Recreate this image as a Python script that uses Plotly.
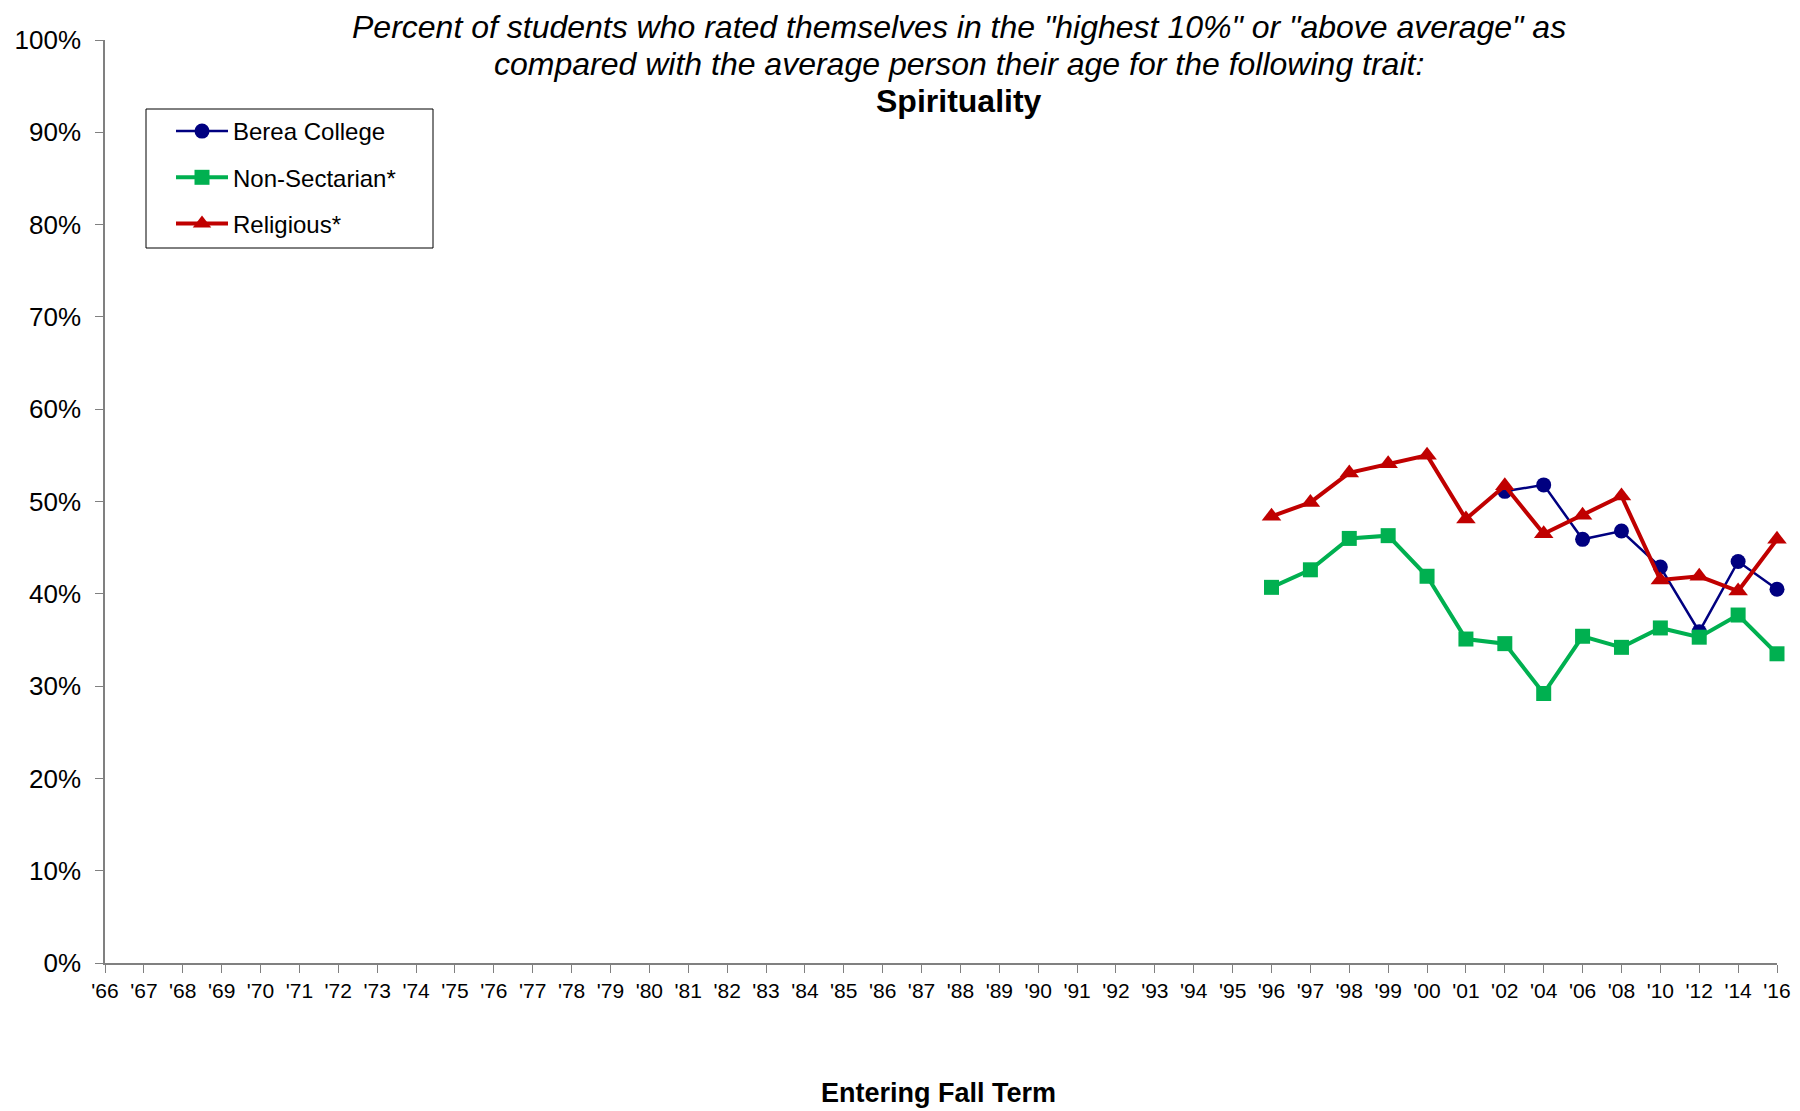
import plotly.graph_objects as go

years = ["'66","'67","'68","'69","'70","'71","'72","'73","'74","'75","'76","'77","'78","'79",
         "'80","'81","'82","'83","'84","'85","'86","'87","'88","'89","'90","'91","'92","'93",
         "'94","'95","'96","'97","'98","'99","'00","'01","'02","'04","'06","'08","'10","'12","'14","'16"]

rel_years = ["'96","'97","'98","'99","'00","'01","'02","'04","'06","'08","'10","'12","'14","'16"]
religious = [48.4, 49.9, 53.1, 54.1, 55.0, 48.1, 51.7, 46.5, 48.5, 50.6, 41.5, 41.9, 40.3, 45.9]
nonsect = [40.7, 42.6, 46.0, 46.3, 41.9, 35.1, 34.6, 29.2, 35.4, 34.2, 36.3, 35.3, 37.7, 33.5]

berea_years = ["'02","'04","'06","'08","'10","'12","'14","'16"]
berea = [51.1, 51.8, 45.9, 46.8, 42.9, 35.9, 43.5, 40.5]

FONT = "Liberation Sans, Arial, sans-serif"

fig = go.Figure()
fig.add_trace(go.Scatter(x=berea_years, y=[v/100 for v in berea], name="Berea College",
                         mode="lines+markers", legendgroup="a",
                         line=dict(color="#000080", width=2.5),
                         marker=dict(symbol="circle", size=15, color="#000080"),
                         cliponaxis=False))
fig.add_trace(go.Scatter(x=rel_years, y=[v/100 for v in nonsect], name="Non-Sectarian*",
                         mode="lines+markers", legendgroup="b",
                         line=dict(color="#00B050", width=4),
                         marker=dict(symbol="square", size=15, color="#00B050"),
                         cliponaxis=False))
fig.add_trace(go.Scatter(x=rel_years, y=[v/100 for v in religious], name="Religious*",
                         mode="lines+markers", legendgroup="c",
                         line=dict(color="#C00000", width=4),
                         marker=dict(symbol="triangle-up", size=17, color="#C00000"),
                         cliponaxis=False))

# page body has an 8px margin; place the plot area at page coords x 105..1777, y 40..963
W, H = 1792, 1103
L, T = 97, 32
R = W - (1777 - 8)
B = H - (963 - 8)
PW, PH = W - L - R, H - T - B

def px(xp):
    return (xp - 8 - L) / PW

def py(yp):
    return (H - B - (yp - 8)) / PH

fig.update_layout(
    width=W, height=H,
    margin=dict(l=L, r=R, t=T, b=B),
    paper_bgcolor="white", plot_bgcolor="white",
    font=dict(family=FONT, color="black"),
    showlegend=True,
    legend=dict(x=px(171), y=py(109), xanchor="left", yanchor="top",
                borderwidth=0, bgcolor="rgba(0,0,0,0)",
                font=dict(size=24, family=FONT), traceorder="grouped", tracegroupgap=12,
                itemwidth=52),
    xaxis=dict(type="category", categoryorder="array", categoryarray=years,
               tickvals=years, ticktext=years, automargin=False,
               range=[0, len(years)-1], showgrid=False, zeroline=False,
               showline=True, linecolor="#808080", linewidth=1.5,
               ticks="outside", ticklen=8, tickcolor="#808080",
               tickfont=dict(size=21, family=FONT), tickangle=0),
    yaxis=dict(range=[0, 1], tickformat=".0%", dtick=0.1, showgrid=False, zeroline=False,
               showline=True, linecolor="#808080", linewidth=1.5, automargin=False,
               ticks="outside", ticklen=8, tickcolor="#808080",
               tickfont=dict(size=26, family=FONT), ticklabelstandoff=9),
)

# legend frame
fig.add_shape(type="rect", xref="paper", yref="paper",
              x0=px(146), x1=px(433), y0=py(248), y1=py(109),
              line=dict(color="black", width=1), fillcolor="rgba(0,0,0,0)", layer="above")

fig.add_annotation(text="<i>Percent of students who rated themselves in the \"highest 10%\" or \"above average\" as</i>",
                   xref="paper", yref="paper", x=px(959), y=py(27),
                   showarrow=False, font=dict(size=32, family=FONT), xanchor="center", yanchor="middle")
fig.add_annotation(text="<i>compared with the average person their age for the following trait:</i>",
                   xref="paper", yref="paper", x=px(959), y=py(64),
                   showarrow=False, font=dict(size=32, family=FONT), xanchor="center", yanchor="middle")
fig.add_annotation(text="<b>Spirituality</b>",
                   xref="paper", yref="paper", x=px(959), y=py(101),
                   showarrow=False, font=dict(size=32, family=FONT), xanchor="center", yanchor="middle")
# x-axis title
fig.add_annotation(text="<b>Entering Fall Term</b>",
                   xref="paper", yref="paper", x=px(938), y=py(1093),
                   showarrow=False, font=dict(size=27, family=FONT), xanchor="center", yanchor="middle")

fig.write_html("out.html")
